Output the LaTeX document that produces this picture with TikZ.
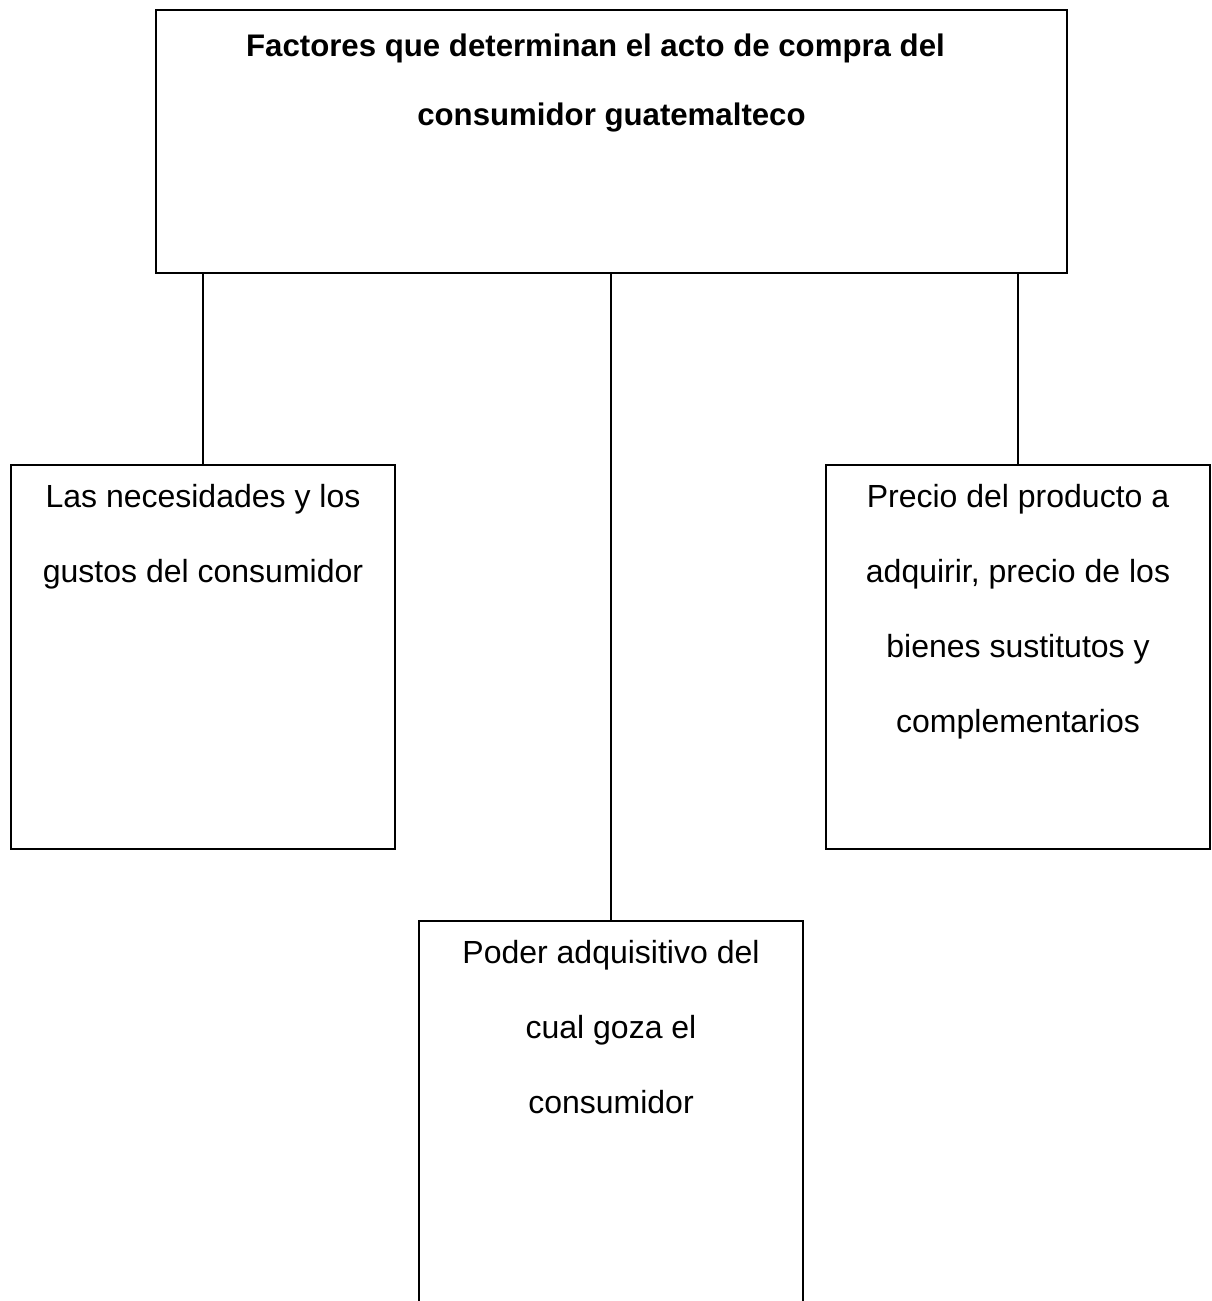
\documentclass[tikz,border=0pt]{standalone}
\usepackage{fontspec}
\setmainfont{Liberation Sans}
\usepackage{tikz}
\usetikzlibrary{positioning,calc}
\tikzset{
  factorbox/.style={draw,line width=0.8pt,inner sep=0pt},
}
% top aligned text inside a fixed box
\newcommand{\boxtext}[3]{\parbox[c][#2][t]{#1}{\centering\fontsize{16pt}{37.5pt}\selectfont\rule{0pt}{21pt}#3}}

\begin{document}
\begin{tikzpicture}[x=0.5pt,y=-0.5pt]
\useasboundingbox (0,0) rectangle (1211,1301);
\clip (0,0) rectangle (1211,1301);
\node[factorbox](factores) at (611.5,141.5){\parbox[c][131.5pt][t]{455.5pt}{\centering\fontsize{15.6pt}{34.5pt}\selectfont\bfseries\rule{0pt}{23pt}Factores que determinan el acto de compra del\rule{16pt}{0pt}\\consumidor guatemalteco}};
\node[factorbox](gustos) at (203,657){\boxtext{192pt}{192pt}{Las necesidades y los\\gustos del consumidor}};
\node[factorbox](precio) at (1018,657){\boxtext{192pt}{192pt}{Precio del producto a\\adquirir, precio de los\\bienes sustitutos y\\complementarios}};
\node[factorbox](poder) at (611,1130.5){\boxtext{192pt}{209.5pt}{Poder adquisitivo del\\cual goza el\\consumidor}};
\draw[line width=0.8pt](gustos.north)--(gustos.north|-factores.south);
\draw[line width=0.8pt](poder.north)--(poder.north|-factores.south);
\draw[line width=0.8pt](precio.north)--(precio.north|-factores.south);
\end{tikzpicture}
\end{document}
